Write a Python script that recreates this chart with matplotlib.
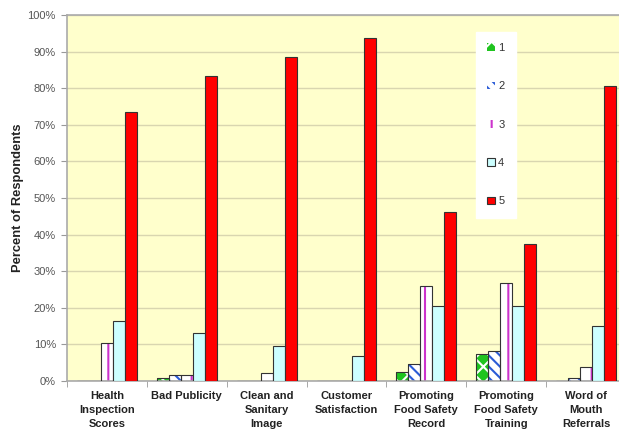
import matplotlib
matplotlib.use("Agg")
import matplotlib.pyplot as plt
import numpy as np
from matplotlib.patches import Patch
from matplotlib.ticker import FixedLocator, PercentFormatter

plt.rcParams['font.family'] = ['Liberation Sans', 'DejaVu Sans']
plt.rcParams['hatch.linewidth'] = 1.5

categories = ["Health\nInspection\nScores", "Bad Publicity", "Clean and\nSanitary\nImage",
              "Customer\nSatisfaction", "Promoting\nFood Safety\nRecord",
              "Promoting\nFood Safety\nTraining", "Word of\nMouth\nReferrals"]
ratings = ["1", "2", "3", "4", "5"]
r1 = [0.0, 0.7, 0.0, 0.0, 2.5, 7.5, 0.0]
r2 = [0.0, 1.6, 0.0, 0.0, 4.6, 8.1, 0.7]
r3 = [10.5, 1.6, 2.2, 0.0, 26.0, 26.8, 3.7]
r4 = [16.4, 13.1, 9.6, 6.7, 20.5, 20.4, 15.0]
r5 = [73.4, 83.3, 88.5, 93.7, 46.2, 37.4, 80.5]
series = [r1, r2, r3, r4, r5]

styles = [
    dict(face="#1fc41f", hatch="xx", hcolor="white"),
    dict(face="white", hatch="\\\\\\", hcolor="#2a5bd7"),
    dict(face="white", hatch="|", hcolor="#cc33cc"),
    dict(face="#ccffff", hatch=None, hcolor=None),
    dict(face="#ff0000", hatch=None, hcolor=None),
]

fig = plt.figure(figsize=(6.19, 4.32), dpi=100)
ax = fig.add_axes([67 / 619, 51 / 432, 559 / 619, 366 / 432])
ax.set_facecolor("#ffffcc")

x = np.arange(len(categories))
w = 0.15
for i, (vals, st) in enumerate(zip(series, styles)):
    pos = x + (i - 2) * w
    if st["hatch"]:
        ax.bar(pos, vals, w, color=st["face"], hatch=st["hatch"],
               edgecolor=st["hcolor"], linewidth=0, zorder=2)
        ax.bar(pos, vals, w, fill=False, edgecolor="#333333", linewidth=0.8, zorder=3)
    else:
        ax.bar(pos, vals, w, color=st["face"], edgecolor="#333333", linewidth=0.8, zorder=3)

ax.set_xlim(-0.5, len(categories) - 0.5)
ax.set_ylim(0, 100)
ax.yaxis.set_major_locator(FixedLocator(np.arange(0, 101, 10)))
ax.yaxis.set_major_formatter(PercentFormatter(decimals=0))
ax.grid(axis="y", color="#d9d6b0", linewidth=1, zorder=0)
ax.set_axisbelow(True)

ax.set_xticks(x)
ax.set_xticklabels(categories, fontsize=8, fontweight="bold", color="#222222",
                   linespacing=1.5)
ax.tick_params(axis="x", length=0, pad=7)
ax.set_xticks(np.arange(-0.5, len(categories)), minor=True)
ax.tick_params(axis="x", which="minor", length=4, color="#999999", direction="out")
ax.tick_params(axis="y", labelsize=8, labelcolor="#555555", length=4,
               color="#999999", pad=4)

for side in ["left", "top", "bottom"]:
    ax.spines[side].set_color("#aaaaaa")
    ax.spines[side].set_linewidth(1.2)
ax.spines["right"].set_visible(False)

ax.set_ylabel("Percent of Respondents", fontsize=9.3, fontweight="bold",
              color="#222222")
ax.yaxis.set_label_coords((24 - 67) / 559, 0.5)

handles = []
for st in styles:
    if st["hatch"]:
        handles.append(Patch(facecolor=st["face"], hatch=st["hatch"],
                             edgecolor=st["hcolor"], linewidth=0))
    else:
        handles.append(Patch(facecolor=st["face"], edgecolor="#333333", linewidth=0.8))
leg = ax.legend(handles, ratings, loc="upper left",
                bbox_to_anchor=((476 - 67) / 559, (381 - 32) / 366),
                frameon=True, fontsize=8, handlelength=0.7, handleheight=0.7,
                handletextpad=0.3, labelspacing=2.55, borderpad=1.0,
                fancybox=False, borderaxespad=0)
leg.get_frame().set_facecolor("white")
leg.get_frame().set_edgecolor("white")
leg.get_frame().set_alpha(1)
for t in leg.get_texts():
    t.set_color("#333333")

fig.savefig("out.png", dpi=100, facecolor="white")
